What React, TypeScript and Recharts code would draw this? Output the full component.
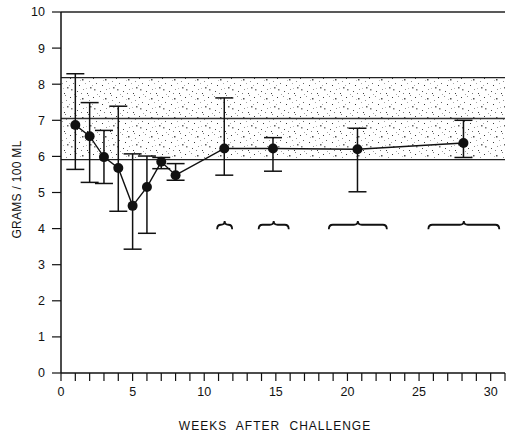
import React from 'react';
import {
  LineChart, Line, XAxis, YAxis, ErrorBar, ReferenceArea, ReferenceLine,
} from 'recharts';

// ---- data ----
const weeks = [1, 2, 3, 4, 5, 6, 7, 8, 11.4, 14.8, 20.7, 28.1];
const means = [6.87, 6.56, 5.98, 5.68, 4.63, 5.15, 5.85, 5.48, 6.22, 6.22, 6.2, 6.37];
const upper = [8.29, 7.49, 6.72, 7.39, 6.07, 6.01, 5.97, 5.8, 7.62, 6.52, 6.78, 7.0];
const lower = [5.64, 5.28, 5.25, 4.48, 3.43, 3.87, 5.66, 5.34, 5.48, 5.59, 5.02, 5.97];

const normalBandLow = 5.91;
const normalBandMid = 7.05;
const normalBandHigh = 8.18;

const braceStart = [10.9, 13.8, 18.7, 25.65];
const braceEnd = [11.95, 15.9, 22.75, 30.6];
const braceLow = 3.98;
const braceHigh = 4.21;

const xTicks = Array.from({ length: 32 }, (_, i) => i);
const yTicks = [0, 1, 2, 3, 4, 5, 6, 7, 8, 9, 10];

const data = weeks.map((w, i) => ({
  week: w,
  mean: means[i],
  err: [means[i] - lower[i], upper[i] - means[i]],
}));

// stipple texture (style only)
const stippleDots: [number, number, number, number][] = [
  [1, 2, 1, 0.9], [7, 1, 1, 0.5], [13, 3, 1.5, 0.8], [19, 0, 1, 0.6], [4, 7, 1, 0.7],
  [10, 9, 1, 0.9], [16, 7, 1, 0.4], [21, 11, 1.5, 0.7], [2, 13, 1.5, 0.6], [8, 15, 1, 0.8],
  [14, 13, 1, 0.5], [18, 17, 1, 0.9], [5, 18, 1, 0.4], [11, 4, 1, 0.3], [20, 5, 1, 0.5],
  [0, 9, 1, 0.4], [12, 17, 1, 0.6], [17, 12, 1, 0.3],
];

const Brace = (props: any) => {
  const { x, y, width, height } = props;
  const r = Math.min(4, width / 4);
  const cx = x + width / 2;
  const yb = y + height;
  const ym = y + height * 0.45;
  const d = `M${x},${yb} Q${x},${ym} ${x + r},${ym} L${cx - r},${ym} Q${cx},${ym} ${cx},${y} Q${cx},${ym} ${cx + r},${ym} L${x + width - r},${ym} Q${x + width},${ym} ${x + width},${yb}`;
  return <path d={d} fill="none" stroke="#111" strokeWidth={1.8} />;
};

const fontFam = '"Liberation Sans", Arial, sans-serif';
const tickStyle = { fontFamily: fontFam, fontSize: 12.5, fill: '#111' };

export default function App() {
  return (
    <div style={{ position: 'absolute', left: 0, top: 0 }}>
      <svg width={0} height={0} style={{ position: 'absolute' }}>
        <defs>
          <pattern id="stipple" width={23} height={19} patternUnits="userSpaceOnUse">
            {stippleDots.map(([px, py, s, o], i) => (
              <rect key={i} x={px} y={py} width={s} height={s} fill="#222" opacity={o} />
            ))}
          </pattern>
        </defs>
      </svg>
      <LineChart width={509} height={434} data={data} margin={{ top: 12, right: 4, left: 0, bottom: 0 }}>
        <XAxis
          type="number"
          dataKey="week"
          domain={[0, 31]}
          ticks={xTicks}
          interval={0}
          tickFormatter={(v: number) => (v % 5 === 0 ? String(v) : '')}
          height={61}
          tickSize={8}
          tickMargin={6}
          tick={tickStyle}
          axisLine={{ stroke: '#111', strokeWidth: 1.5 }}
          tickLine={{ stroke: '#111', strokeWidth: 1.2 }}
          label={{
            content: (p: any) => {
              const vb = p.viewBox;
              return (
                <text x={vb.x + vb.width / 2 - 8} y={vb.y + 57} textAnchor="middle"
                  style={{ fontFamily: fontFam, fontSize: 12, fill: '#111', letterSpacing: 1, wordSpacing: 5 }}>
                  WEEKS AFTER CHALLENGE
                </text>
              );
            },
          }}
        />
        <YAxis
          type="number"
          domain={[0, 10]}
          ticks={yTicks}
          interval={0}
          width={61}
          tickSize={9}
          tickMargin={7}
          tick={tickStyle}
          axisLine={{ stroke: '#111', strokeWidth: 1.5 }}
          tickLine={{ stroke: '#111', strokeWidth: 1.2 }}
          label={{
            content: (p: any) => {
              const vb = p.viewBox;
              const cx = vb.x + 21;
              const cy = vb.y + vb.height / 2 - 3;
              return (
                <text x={cx} y={cy} textAnchor="middle" transform={`rotate(-90 ${cx} ${cy})`}
                  style={{ fontFamily: fontFam, fontSize: 12, fill: '#111', letterSpacing: 0.3 }}>
                  GRAMS / 100 ML
                </text>
              );
            },
          }}
        />
        <ReferenceArea x1={0} x2={31} y1={normalBandLow} y2={normalBandHigh} fill="url(#stipple)" fillOpacity={1} stroke="none" />
        <ReferenceLine y={10} stroke="#222" strokeWidth={1.3} />
        <ReferenceLine y={normalBandHigh} stroke="#222" strokeWidth={1.3} />
        <ReferenceLine y={normalBandMid} stroke="#333" strokeWidth={1.3} />
        <ReferenceLine y={normalBandLow} stroke="#222" strokeWidth={1.3} />
        {braceStart.map((s, i) => (
          <ReferenceArea key={i} x1={s} x2={braceEnd[i]} y1={braceLow} y2={braceHigh} shape={Brace} />
        ))}
        <Line
          type="linear"
          dataKey="mean"
          stroke="#111"
          strokeWidth={1.4}
          dot={{ r: 5, fill: '#111', stroke: '#111', strokeWidth: 0 }}
          isAnimationActive={false}
        >
          <ErrorBar dataKey="err" width={9} stroke="#111" strokeWidth={1.5} direction="y" />
        </Line>
      </LineChart>
    </div>
  );
}
